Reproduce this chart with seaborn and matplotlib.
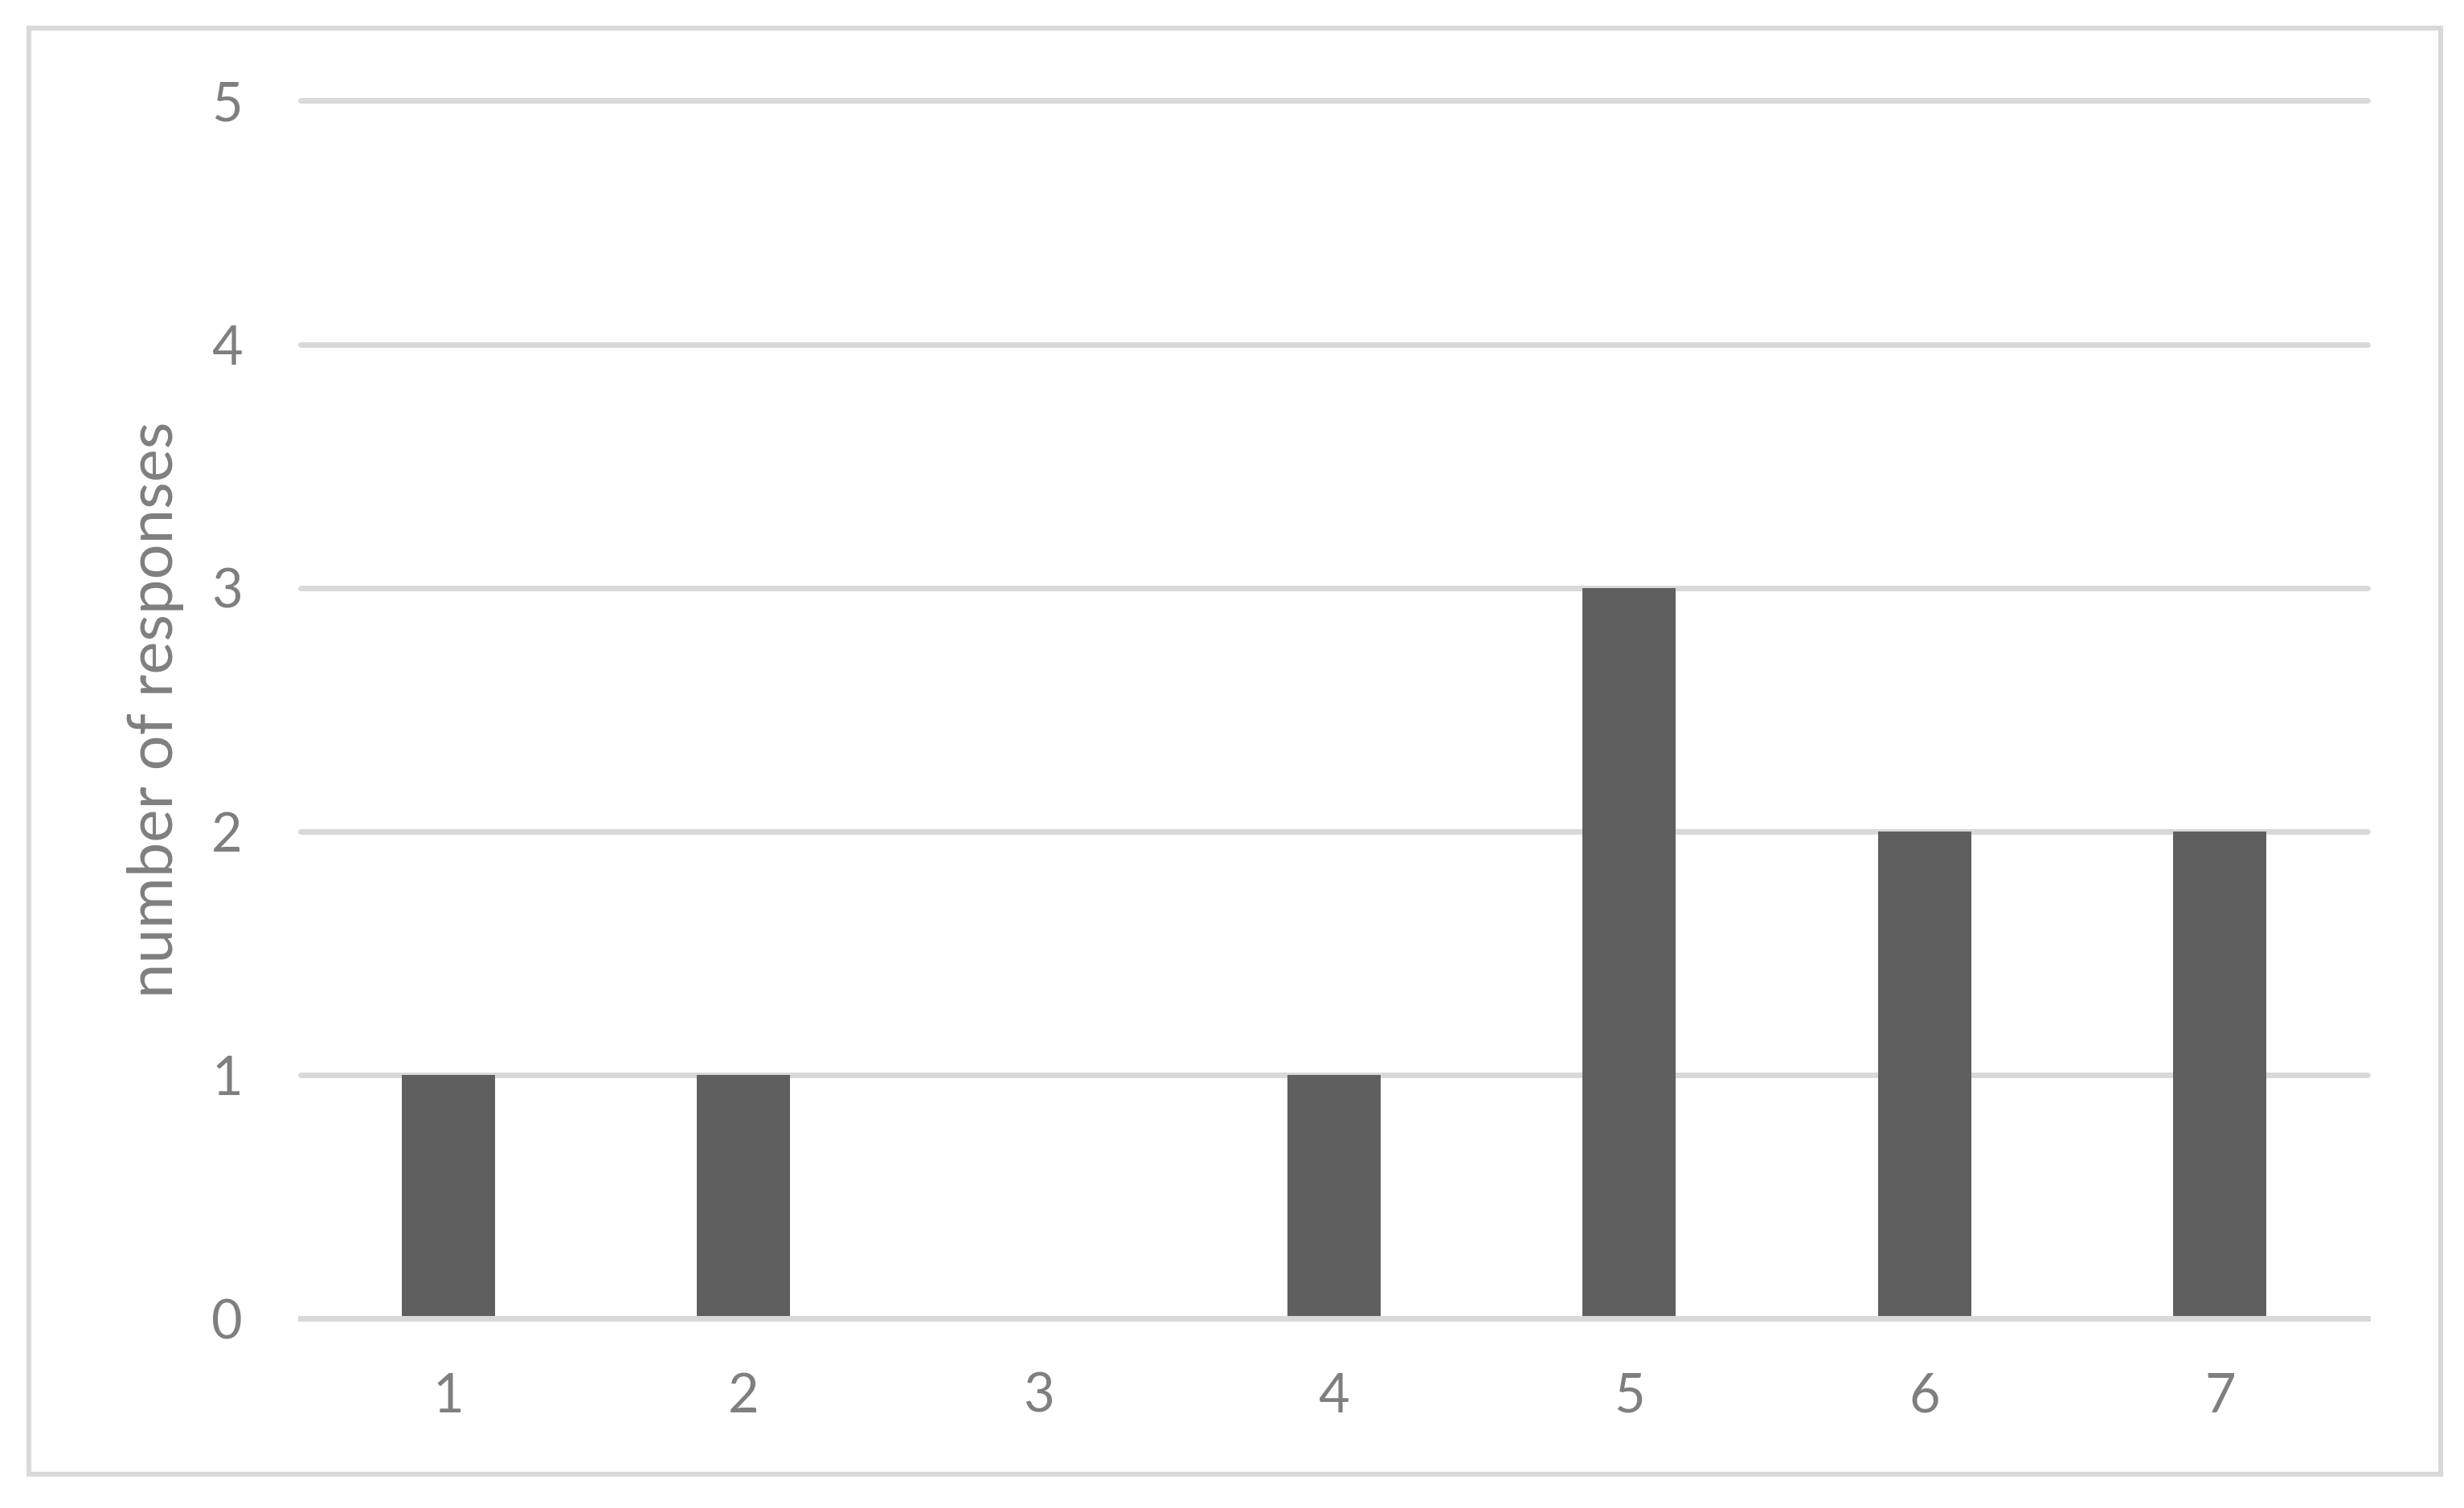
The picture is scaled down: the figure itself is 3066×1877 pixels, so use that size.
import matplotlib
matplotlib.use('Agg')
import pandas as pd
import seaborn as sns
import matplotlib.pyplot as plt
from matplotlib.patches import Rectangle

sns.set_style('white')
plt.rcParams['font.family'] = ['Lato', 'DejaVu Sans']

# rating on the x axis, count of responses on the y axis
ratings = ['1', '2', '3', '4', '5', '6', '7']
responses = [1, 1, 0, 1, 3, 2, 2]
y_ticks = [0, 1, 2, 3, 4, 5]
y_label = 'number of responses'

bar_color = '#5F5F5F'
grid_color = '#D9D9D9'
text_color = '#7F7F7F'


def main():
    data = pd.DataFrame({'rating': ratings, 'responses': responses})

    fig = plt.figure(figsize=(15.33, 9.385), dpi=200)
    ax = fig.add_axes([0.12198, 0.12573, 0.83888, 0.80741])

    sns.barplot(x='rating', y='responses', data=data, color=bar_color,
                saturation=1, width=0.316, linewidth=0, ax=ax)

    ax.set_ylim(0, 5)
    ax.set_xlim(-0.5, len(ratings) - 0.5)
    ax.set_yticks(y_ticks)
    ax.set_axisbelow(True)
    ax.yaxis.grid(True, color=grid_color, linewidth=2.5)
    for line in ax.get_ygridlines():
        line.set_clip_on(False)
    ax.xaxis.grid(False)

    for side in ['top', 'left', 'right']:
        ax.spines[side].set_visible(False)
    ax.spines['bottom'].set_color(grid_color)
    ax.spines['bottom'].set_linewidth(2.5)

    ax.tick_params(axis='y', length=0, pad=26, labelsize=24,
                   labelcolor=text_color)
    ax.tick_params(axis='x', length=0, pad=24, labelsize=24,
                   labelcolor=text_color)
    ax.set_xlabel('')
    ax.set_ylabel(y_label, fontsize=28, color=text_color)
    ax.yaxis.set_label_coords(-0.0564, 0.5)

    # light grey border round the whole chart
    fig.patches.append(Rectangle((0.0119, 0.02264), 0.9786, 0.95871,
                                 transform=fig.transFigure, fill=False,
                                 edgecolor=grid_color, linewidth=2.2))

    fig.savefig('out.png', dpi=200, facecolor='white')
    plt.close(fig)


if __name__ == '__main__':
    main()
